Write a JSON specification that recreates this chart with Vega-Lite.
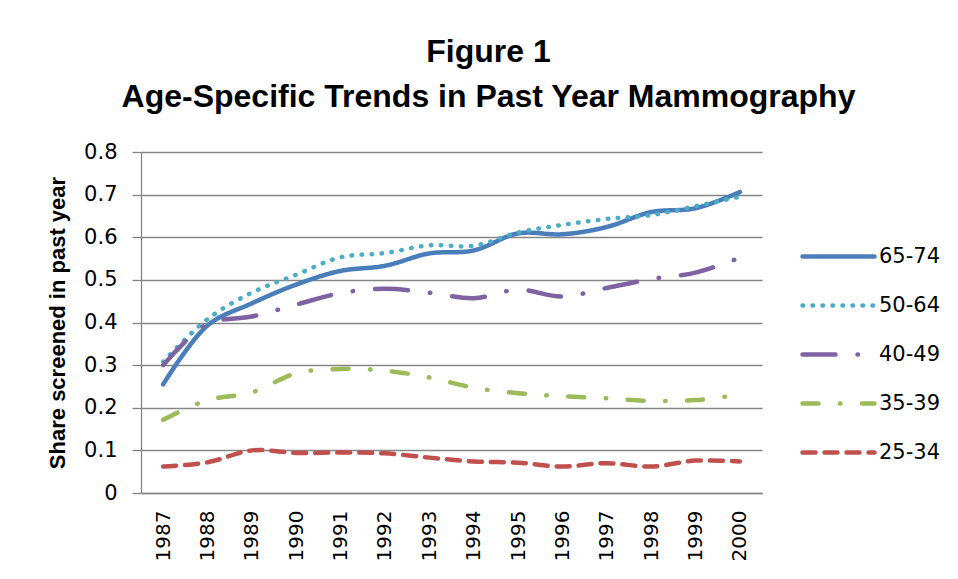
{
  "$schema": "https://vega.github.io/schema/vega-lite/v6.json",
  "width": 621,
  "height": 341,
  "autosize": {"type": "none"},
  "padding": {"left": 141, "top": 152, "right": 196, "bottom": 86},
  "background": "white",
  "title": {
    "text": ["Figure 1", "Age-Specific Trends in Past Year Mammography"],
    "font": "Liberation Sans",
    "fontSize": 32,
    "fontWeight": "bold",
    "color": "#000000",
    "lineHeight": 45,
    "anchor": "middle",
    "frame": "group",
    "dx": 37,
    "baseline": "alphabetic",
    "offset": 2
  },
  "data": {
    "values": [
      {"year": "1987", "group": "65-74", "value": 0.255},
      {"year": "1988", "group": "65-74", "value": 0.393},
      {"year": "1989", "group": "65-74", "value": 0.445},
      {"year": "1990", "group": "65-74", "value": 0.489},
      {"year": "1991", "group": "65-74", "value": 0.521},
      {"year": "1992", "group": "65-74", "value": 0.533},
      {"year": "1993", "group": "65-74", "value": 0.562},
      {"year": "1994", "group": "65-74", "value": 0.569},
      {"year": "1995", "group": "65-74", "value": 0.609},
      {"year": "1996", "group": "65-74", "value": 0.607},
      {"year": "1997", "group": "65-74", "value": 0.624},
      {"year": "1998", "group": "65-74", "value": 0.659},
      {"year": "1999", "group": "65-74", "value": 0.668},
      {"year": "2000", "group": "65-74", "value": 0.706},
      {"year": "1987", "group": "50-64", "value": 0.308},
      {"year": "1988", "group": "50-64", "value": 0.408},
      {"year": "1989", "group": "50-64", "value": 0.47},
      {"year": "1990", "group": "50-64", "value": 0.512},
      {"year": "1991", "group": "50-64", "value": 0.553},
      {"year": "1992", "group": "50-64", "value": 0.563},
      {"year": "1993", "group": "50-64", "value": 0.581},
      {"year": "1994", "group": "50-64", "value": 0.58},
      {"year": "1995", "group": "50-64", "value": 0.611},
      {"year": "1996", "group": "50-64", "value": 0.629},
      {"year": "1997", "group": "50-64", "value": 0.643},
      {"year": "1998", "group": "50-64", "value": 0.652},
      {"year": "1999", "group": "50-64", "value": 0.673},
      {"year": "2000", "group": "50-64", "value": 0.695},
      {"year": "1987", "group": "40-49", "value": 0.3},
      {"year": "1988", "group": "40-49", "value": 0.397},
      {"year": "1989", "group": "40-49", "value": 0.414},
      {"year": "1990", "group": "40-49", "value": 0.442},
      {"year": "1991", "group": "40-49", "value": 0.469},
      {"year": "1992", "group": "40-49", "value": 0.479},
      {"year": "1993", "group": "40-49", "value": 0.47},
      {"year": "1994", "group": "40-49", "value": 0.457},
      {"year": "1995", "group": "40-49", "value": 0.477},
      {"year": "1996", "group": "40-49", "value": 0.461},
      {"year": "1997", "group": "40-49", "value": 0.481},
      {"year": "1998", "group": "40-49", "value": 0.502},
      {"year": "1999", "group": "40-49", "value": 0.517},
      {"year": "2000", "group": "40-49", "value": 0.552},
      {"year": "1987", "group": "35-39", "value": 0.172},
      {"year": "1988", "group": "35-39", "value": 0.218},
      {"year": "1989", "group": "35-39", "value": 0.236},
      {"year": "1990", "group": "35-39", "value": 0.281},
      {"year": "1991", "group": "35-39", "value": 0.291},
      {"year": "1992", "group": "35-39", "value": 0.287},
      {"year": "1993", "group": "35-39", "value": 0.271},
      {"year": "1994", "group": "35-39", "value": 0.247},
      {"year": "1995", "group": "35-39", "value": 0.234},
      {"year": "1996", "group": "35-39", "value": 0.227},
      {"year": "1997", "group": "35-39", "value": 0.222},
      {"year": "1998", "group": "35-39", "value": 0.216},
      {"year": "1999", "group": "35-39", "value": 0.218},
      {"year": "2000", "group": "35-39", "value": 0.231},
      {"year": "1987", "group": "25-34", "value": 0.062},
      {"year": "1988", "group": "25-34", "value": 0.072},
      {"year": "1989", "group": "25-34", "value": 0.1},
      {"year": "1990", "group": "25-34", "value": 0.094},
      {"year": "1991", "group": "25-34", "value": 0.095},
      {"year": "1992", "group": "25-34", "value": 0.093},
      {"year": "1993", "group": "25-34", "value": 0.083},
      {"year": "1994", "group": "25-34", "value": 0.074},
      {"year": "1995", "group": "25-34", "value": 0.071},
      {"year": "1996", "group": "25-34", "value": 0.062},
      {"year": "1997", "group": "25-34", "value": 0.07},
      {"year": "1998", "group": "25-34", "value": 0.062},
      {"year": "1999", "group": "25-34", "value": 0.076},
      {"year": "2000", "group": "25-34", "value": 0.074}
    ]
  },
  "mark": {"type": "line", "interpolate": "catmull-rom", "strokeWidth": 4.5, "strokeCap": "round"},
  "encoding": {
    "x": {
      "field": "year",
      "type": "ordinal",
      "axis": {
        "title": null,
        "labelAngle": -90,
        "labelFont": "DejaVu Sans",
        "labelFontSize": 20,
        "labelColor": "#000000",
        "ticks": false,
        "tickSize": 0,
        "labelPadding": 17,
        "domainColor": "#868686",
        "domainWidth": 1.3,
        "grid": false
      }
    },
    "y": {
      "field": "value",
      "type": "quantitative",
      "scale": {"domain": [0, 0.8], "nice": false},
      "axis": {
        "title": "Share screened in past year",
        "titleFont": "Liberation Sans",
        "titleFontSize": 22,
        "titleFontWeight": "bold",
        "titleColor": "#000000",
        "titlePadding": 14,
        "values": [0, 0.1, 0.2, 0.3, 0.4, 0.5, 0.6, 0.7, 0.8],
        "format": ".1~f",
        "labelFont": "DejaVu Sans",
        "labelFontSize": 21,
        "labelColor": "#000000",
        "labelPadding": 15,
        "tickSize": 9,
        "tickColor": "#868686",
        "tickWidth": 1.3,
        "domainColor": "#868686",
        "domainWidth": 1.3,
        "gridColor": "#868686",
        "gridWidth": 1.3
      }
    },
    "color": {
      "field": "group",
      "type": "nominal",
      "scale": {
        "domain": ["65-74", "50-64", "40-49", "35-39", "25-34"],
        "range": ["#4A7EBB", "#4BACC6", "#7E62A1", "#9BBB59", "#C0504D"]
      },
      "legend": {
        "title": null,
        "orient": "none",
        "legendX": 659,
        "legendY": 66,
        "labelFont": "DejaVu Sans",
        "labelFontSize": 21,
        "labelColor": "#000000",
        "symbolType": "stroke",
        "symbolSize": 5184,
        "symbolStrokeWidth": 4.5,
        "labelOffset": 2,
        "rowPadding": 0,
        "encode": {
          "symbols": {"update": {"strokeCap": {"value": "round"}}}
        }
      }
    },
    "strokeDash": {
      "field": "group",
      "type": "nominal",
      "scale": {
        "domain": ["65-74", "50-64", "40-49", "35-39", "25-34"],
        "range": [[1, 0], [0.5, 9.5], [33, 22, 0.5, 22], [16, 21.5, 0.5, 21.5], [13, 9]]
      }
    }
  },
  "config": {
    "view": {"stroke": null}
  }
}
